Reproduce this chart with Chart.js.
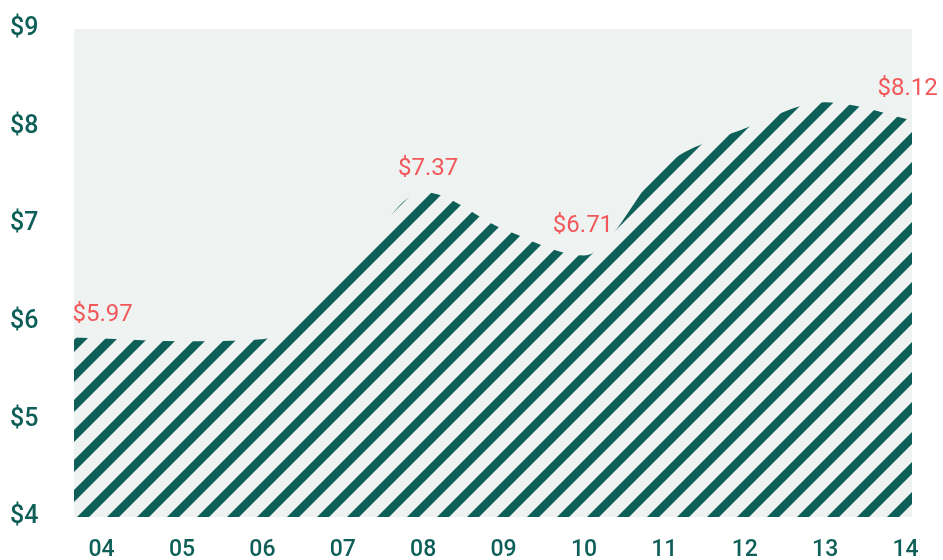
<!DOCTYPE html>
<html>
<head>
<meta charset="utf-8">
<script src="https://cdn.jsdelivr.net/npm/chart.js@4.4.1/dist/chart.umd.min.js"></script>
<style>
body { margin: 0; background: #fff; }
</style>
</head>
<body>
<canvas id="myChart" width="943" height="560"></canvas>
<script>
// values (curve runs a little past 04 and 14)
var years = [3.657, 4, 5, 6, 7, 8, 9, 10, 11, 12, 13, 14, 14.08];
var prices = [5.84, 5.83, 5.80, 5.82, 6.44, 7.33, 6.95, 6.68, 7.60, 7.98, 8.25, 8.08, 8.06];
var tick_labels = ['04', '05', '06', '07', '08', '09', '10', '11', '12', '13', '14'];
var callout_years = [4, 8, 10, 14];
var callout_text = ['$5.97', '$7.37', '$6.71', '$8.12'];

var teal = '#0e5f58';

function make_stripes() {
        var size = 30;
        var c = document.createElement('canvas');
        c.width = size;
        c.height = size;
        var g = c.getContext('2d');
        g.fillStyle = '#eef3f2';
        g.fillRect(0, 0, size, size);
        g.strokeStyle = teal;
        g.lineWidth = 8.5;
        // run each stripe past the tile edges so the tiles join without seams
        for (var k = -1; k <= 1; k++) {
                g.beginPath();
                g.moveTo(k * size - size, 2 * size);
                g.lineTo(k * size + 2 * size, -size);
                g.stroke();
        }
        return g.createPattern(c, 'repeat');
}

var plotBackground = {
        id: 'plotBackground',
        beforeDraw: function(chart) {
                var a = chart.chartArea;
                var ctx = chart.ctx;
                ctx.save();
                ctx.fillStyle = '#eef3f2';
                ctx.fillRect(a.left, a.top, a.right - a.left, a.bottom - a.top);
                ctx.restore();
        }
};

var callouts = {
        id: 'callouts',
        afterDatasetsDraw: function(chart) {
                var ctx = chart.ctx;
                var meta = chart.getDatasetMeta(0);
                var dx = [1, 5, -1, 2];
                var dy = [-23, -23, -29, -30];
                ctx.save();
                ctx.font = '400 24px Roboto';
                ctx.fillStyle = '#f2575a';
                ctx.textAlign = 'center';
                ctx.textBaseline = 'middle';
                for (var i = 0; i < callout_years.length; i++) {
                        var p = meta.data[years.indexOf(callout_years[i])];
                        ctx.fillText(callout_text[i], p.x + dx[i], p.y + dy[i]);
                }
                ctx.restore();
        }
};

var points = [];
for (var i = 0; i < years.length; i++) {
        points.push({x: years[i], y: prices[i]});
}

var ctx = document.getElementById('myChart');
var myChart = new Chart(ctx, {
        type: 'line',
        data: {
                datasets: [{
                        data: points,
                        fill: 'start',
                        backgroundColor: make_stripes(),
                        borderWidth: 0,
                        pointRadius: 0,
                        cubicInterpolationMode: 'monotone'
                }]
        },
        options: {
                responsive: false,
                animation: false,
                layout: {
                        padding: {left: 10, right: 31, top: 29, bottom: 0}
                },
                plugins: {
                        legend: {display: false},
                        tooltip: {enabled: false}
                },
                scales: {
                        x: {
                                type: 'linear',
                                min: 3.657,
                                max: 14.08,
                                grid: {display: false, drawTicks: false},
                                border: {display: false},
                                afterFit: function(scale) { scale.height = 43; },
                                ticks: {
                                        stepSize: 1,
                                        includeBounds: false,
                                        autoSkip: false,
                                        maxRotation: 0,
                                        padding: 19,
                                        color: teal,
                                        font: {family: 'Roboto', size: 23, weight: '500'},
                                        callback: function(v) { return tick_labels[v - 4]; }
                                }
                        },
                        y: {
                                min: 4,
                                max: 9,
                                grid: {display: false, drawTicks: false},
                                border: {display: false},
                                afterFit: function(scale) { scale.width = 64; },
                                ticks: {
                                        stepSize: 1,
                                        crossAlign: 'far',
                                        color: teal,
                                        font: {family: 'Roboto', size: 25, weight: '500'},
                                        callback: function(v) { return '$' + v; }
                                }
                        }
                }
        },
        plugins: [plotBackground, callouts]
});
</script>
</body>
</html>
